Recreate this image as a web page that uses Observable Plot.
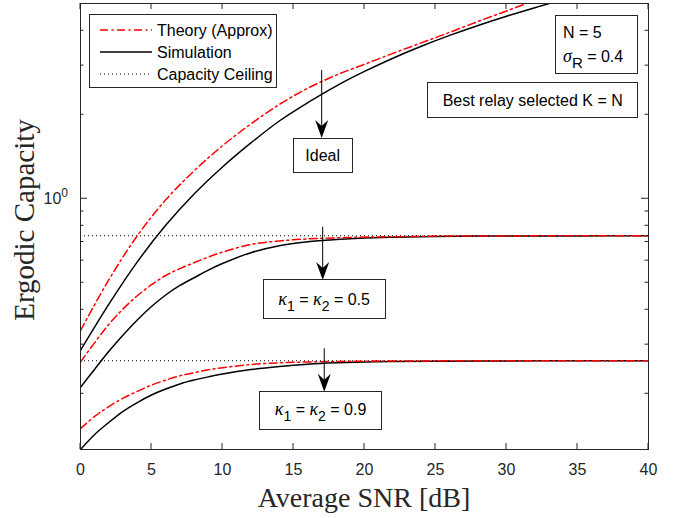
<!DOCTYPE html>
<html><head><meta charset="utf-8">
<script src="https://cdn.jsdelivr.net/npm/d3@7"></script>
<script src="https://cdn.jsdelivr.net/npm/@observablehq/plot@0.6"></script>
<style>body{margin:0;background:#fff}svg{display:block}</style>
</head><body><div id="chart"></div>
<script>
// ---- data ----
const snrIdeal = [0,2,4,6,8,10,12,14,16,18,20,22,24,26,28,30,32,34];
const idealTheory = [0.337,0.513,0.737,0.991,1.259,1.549,1.854,2.178,2.489,2.773,3.034,3.32,3.62,3.95,4.32,4.71,5.14,5.61];
const idealSim = [0.286,0.419,0.594,0.803,1.04,1.30,1.585,1.90,2.21,2.535,2.86,3.19,3.52,3.85,4.18,4.51,4.84,5.17];
const snrK = [0,1,2,3,4,5,6,7,8,9,10,12,14,16,18,20,22,25,30,35,40];
const k05Theory = [0.26,0.305,0.355,0.403,0.449,0.492,0.531,0.562,0.590,0.618,0.644,0.686,0.706,0.718,0.724,0.729,0.731,0.735,0.736,0.737,0.737];
const k05Sim = [0.211,0.245,0.284,0.325,0.368,0.411,0.452,0.489,0.521,0.555,0.586,0.641,0.679,0.701,0.714,0.723,0.728,0.733,0.7355,0.736,0.737];
const k09Theory = [0.150,0.166,0.180,0.193,0.204,0.215,0.224,0.232,0.238,0.244,0.248,0.2547,0.2582,0.260,0.2612,0.2618,0.2621,0.2624,0.2626,0.2627,0.2627];
const k09Sim = [0.1263,0.143,0.158,0.173,0.186,0.198,0.208,0.217,0.224,0.230,0.2355,0.2443,0.2506,0.2553,0.2582,0.260,0.2612,0.2618,0.2624,0.2627,0.2627];
const ceilings = [0.737, 0.2627];
const xTicks = [0,5,10,15,20,25,30,35,40];
const yMajor = [1];
const yMinor = [0.2,0.3,0.4,0.5,0.6,0.7,0.8,0.9,2,3,4];
const xDomain = [0, 40];
const yDomain = [0.1263, 5.01];
const legendLabels = ["Theory (Approx)", "Simulation", "Capacity Ceiling"];
const xLabel = "Average SNR [dB]";
const yLabel = "Ergodic Capacity";
// annotation anchors in data units
const arrows = [
  {x: 17.02, from: 2.88, to: 1.645},
  {x: 17.09, from: 0.791, to: 0.509},
  {x: 17.2, from: 0.290, to: 0.2026}
];
const boxes = [
  {x1: 15.01, x2: 19.17, y1: 1.642, y2: 1.245, kind: "ideal"},
  {x1: 12.91, x2: 21.48, y1: 0.5125, y2: 0.3714, kind: "k", val: "0.5"},
  {x1: 12.63, x2: 21.25, y1: 0.2044, y2: 0.1498, kind: "k", val: "0.9"}
];

const mk = (xs, ys) => xs.map((x, i) => ({snr: x, cap: ys[i]}));
const red = {stroke: "#ff0000", strokeWidth: 1.5, strokeDasharray: "8,3.5,2,3.5"};
const blk = {stroke: "#000000", strokeWidth: 1.5};
const common = {x: "snr", y: "cap", curve: "catmull-rom", clip: true};

const plot = Plot.plot({
  width: 683, height: 518,
  marginLeft: 80, marginRight: 35, marginTop: 3, marginBottom: 69,
  style: {fontFamily: "'Liberation Sans', Arial, sans-serif", fontSize: "16px", color: "#262626", background: "#fff"},
  x: {domain: xDomain},
  y: {type: "log", domain: yDomain},
  marks: [
    Plot.ruleY(ceilings, {stroke: "#000", strokeWidth: 1, strokeDasharray: "1,3"}),
    Plot.line(mk(snrK, k09Sim), {...common, ...blk}),
    Plot.line(mk(snrK, k09Theory), {...common, ...red}),
    Plot.line(mk(snrK, k05Sim), {...common, ...blk}),
    Plot.line(mk(snrK, k05Theory), {...common, ...red}),
    Plot.line(mk(snrIdeal, idealSim), {...common, ...blk}),
    Plot.line(mk(snrIdeal, idealTheory), {...common, ...red}),
    Plot.axisX({ticks: xTicks, tickSize: 0, tickPadding: 14, label: null, fill: "#262626"}),
    Plot.axisY({ticks: [], tickSize: 0, label: null}),
    Plot.frame({stroke: "#262626", strokeWidth: 1})
  ]
});
document.getElementById("chart").appendChild(plot);

const svg = d3.select(plot);
const xs = plot.scale("x"), ys = plot.scale("y");
const X = v => xs.apply(v), Y = v => ys.apply(v);
const L = X(xDomain[0]), R = X(xDomain[1]), B = Y(yDomain[0]), T = Y(yDomain[1]);
const g = svg.append("g").attr("fill", "none").attr("stroke", "#262626").attr("stroke-width", 1);
xTicks.forEach(t => {
  g.append("line").attr("x1", X(t)).attr("x2", X(t)).attr("y1", B).attr("y2", B - 6);
  g.append("line").attr("x1", X(t)).attr("x2", X(t)).attr("y1", T).attr("y2", T + 6);
});
yMajor.forEach(t => {
  g.append("line").attr("x1", L).attr("x2", L + 7).attr("y1", Y(t)).attr("y2", Y(t));
  g.append("line").attr("x1", R).attr("x2", R - 7).attr("y1", Y(t)).attr("y2", Y(t));
});
yMinor.forEach(t => {
  g.append("line").attr("x1", L).attr("x2", L + 3.5).attr("y1", Y(t)).attr("y2", Y(t));
  g.append("line").attr("x1", R).attr("x2", R - 3.5).attr("y1", Y(t)).attr("y2", Y(t));
});

const txt = svg.append("g").attr("fill", "#262626").attr("font-family", "'Liberation Sans', Arial, sans-serif").attr("font-size", 16);
// 10^0
yMajor.forEach(t => {
  const e = txt.append("text").attr("x", L - 12).attr("y", Y(t) + 6).attr("text-anchor", "end");
  e.append("tspan").text("10");
  e.append("tspan").attr("dy", -7).attr("font-size", 12).text(Math.round(Math.log10(t)));
});
// axis labels
txt.append("text").attr("x", (L + R) / 2).attr("y", 507).attr("text-anchor", "middle")
  .attr("font-family", "'Liberation Serif', 'Times New Roman', serif").attr("font-size", 28).text(xLabel);
txt.append("text").attr("transform", `translate(34,${(T + B) / 2 - 6}) rotate(-90)`).attr("text-anchor", "middle")
  .attr("font-family", "'Liberation Serif', 'Times New Roman', serif").attr("font-size", 29).text(yLabel);

// legend
const lg = svg.append("g");
lg.append("rect").attr("x", 89.5).attr("y", 14.5).attr("width", 187).attr("height", 73).attr("fill", "#fff").attr("stroke", "#262626");
const rows = [30, 52, 74];
const styles = [
  {stroke: "#ff0000", w: 1.5, dash: "8,3.5,2,3.5"},
  {stroke: "#000", w: 1.5, dash: null},
  {stroke: "#000", w: 1, dash: "1,3"}
];
rows.forEach((y, i) => {
  lg.append("line").attr("x1", 100).attr("x2", 152).attr("y1", y).attr("y2", y)
    .attr("stroke", styles[i].stroke).attr("stroke-width", styles[i].w).attr("stroke-dasharray", styles[i].dash);
  lg.append("text").attr("x", 157).attr("y", y + 5.7).attr("fill", "#000").attr("text-anchor", "start")
    .attr("font-family", "'Liberation Sans', Arial, sans-serif").attr("font-size", 16).text(legendLabels[i]);
});

// info boxes
const ib = svg.append("g").attr("font-family", "'Liberation Sans', Arial, sans-serif").attr("font-size", 16).attr("fill", "#000");
ib.append("rect").attr("x", 555.5).attr("y", 15.5).attr("width", 82).attr("height", 58).attr("fill", "#fff").attr("stroke", "#262626");
ib.append("text").attr("x", 563).attr("y", 38.3).attr("text-anchor", "start").text("N = 5");
const s = ib.append("text").attr("x", 563).attr("y", 61.7).attr("text-anchor", "start");
s.append("tspan").attr("font-family", "'Liberation Serif', serif").attr("font-style", "italic").attr("font-size", 18).text("σ");
s.append("tspan").attr("dy", 6.5).attr("font-size", 15).text("R");
s.append("tspan").attr("dy", -6.5).text(" = 0.4");
ib.append("rect").attr("x", 427.5).attr("y", 82.5).attr("width", 210).attr("height", 35).attr("fill", "#fff").attr("stroke", "#262626");
ib.append("text").attr("x", 532.7).attr("y", 105.6).attr("text-anchor", "middle").text("Best relay selected K = N");

// arrows
const ag = svg.append("g");
arrows.forEach(a => {
  const x = X(a.x), y1 = Y(a.from), y2 = Y(a.to);
  ag.append("line").attr("x1", x).attr("x2", x).attr("y1", y1).attr("y2", y2 - 10).attr("stroke", "#000").attr("stroke-width", 1);
  ag.append("path").attr("d", `M${x},${y2} L${x - 6.5},${y2 - 18} L${x},${y2 - 12} L${x + 6.5},${y2 - 18} Z`).attr("fill", "#000");
});
// annotation boxes
boxes.forEach(b => {
  const x1 = X(b.x1), x2 = X(b.x2), y1 = Y(b.y1), y2 = Y(b.y2);
  ag.append("rect").attr("x", Math.round(x1) + 0.5).attr("y", Math.round(y1) + 0.5)
    .attr("width", Math.round(x2 - x1)).attr("height", Math.round(y2 - y1)).attr("fill", "#fff").attr("stroke", "#262626");
  const cx = (x1 + x2) / 2, cy = (y1 + y2) / 2;
  const t = ag.append("text").attr("x", cx).attr("y", cy + 6).attr("text-anchor", "middle")
    .attr("font-family", "'Liberation Sans', Arial, sans-serif").attr("font-size", 16).attr("fill", "#000");
  if (b.kind === "ideal") { t.text("Ideal"); }
  else {
    t.append("tspan").attr("font-family", "'Liberation Serif', serif").attr("font-style", "italic").attr("font-size", 18).text("κ");
    t.append("tspan").attr("dy", 6).attr("font-size", 14).text("1");
    t.append("tspan").attr("dy", -6).text(" = ");
    t.append("tspan").attr("font-family", "'Liberation Serif', serif").attr("font-style", "italic").attr("font-size", 18).text("κ");
    t.append("tspan").attr("dy", 6).attr("font-size", 14).text("2");
    t.append("tspan").attr("dy", -6).text(" = " + b.val);
  }
});
</script>
</body></html>
